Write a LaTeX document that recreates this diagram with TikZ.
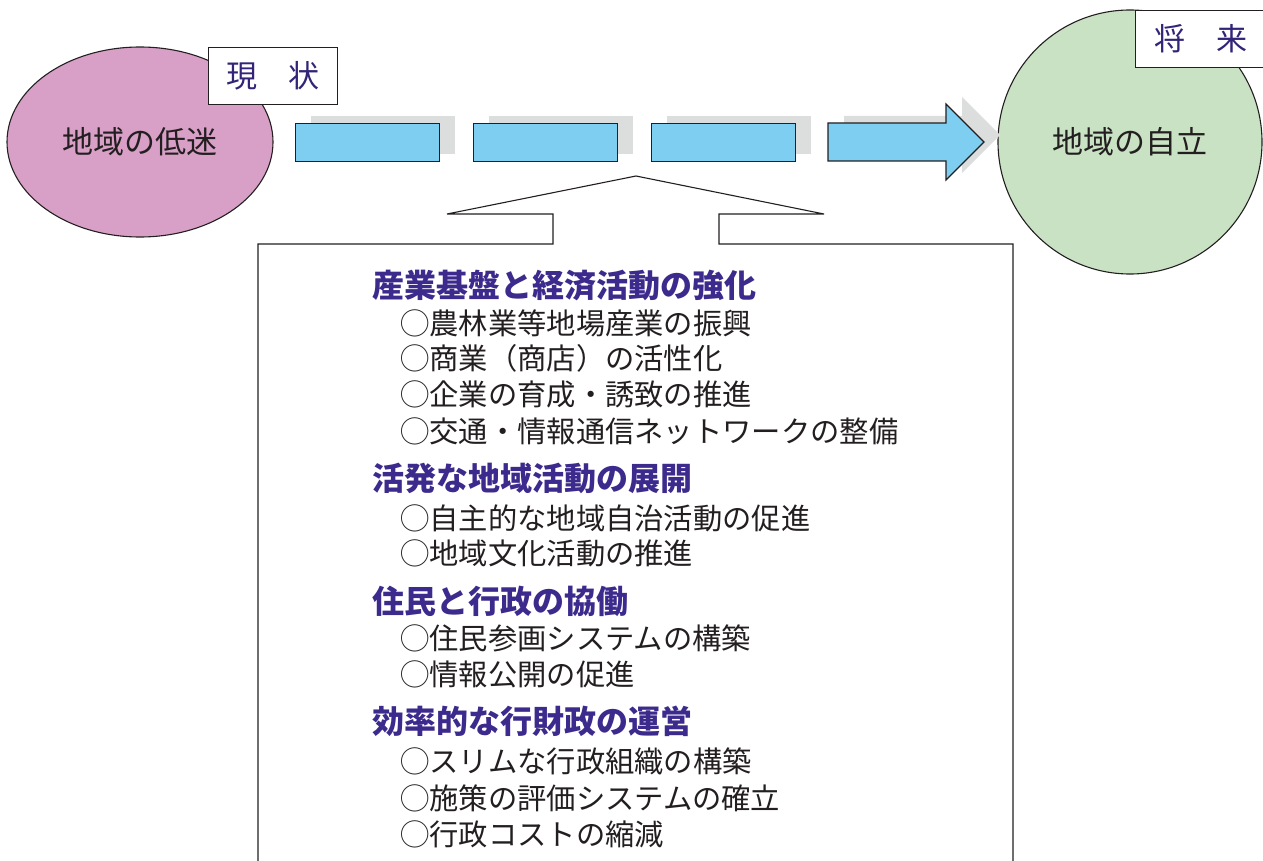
\documentclass[tikz,border=0pt]{standalone}
\usepackage{fontspec}
\newfontfamily\jp{Noto Sans CJK JP}
\usetikzlibrary{shapes.geometric}
\definecolor{pinkfill}{RGB}{216,160,199}
\definecolor{greenfill}{RGB}{201,226,196}
\definecolor{bluefill}{RGB}{126,206,242}
\definecolor{shadowgray}{RGB}{220,221,221}
\definecolor{inkline}{RGB}{35,31,32}
\definecolor{headpurple}{RGB}{60,42,140}
\begin{document}
\begin{tikzpicture}[x=1pt,y=-1pt,
  outline/.style={draw=inkline,line width=1.1pt},
  bluebox/.style={outline,fill=bluefill,minimum width=144pt,minimum height=38pt,inner sep=0pt,anchor=north west},
  shadowbox/.style={fill=shadowgray,minimum width=144pt,minimum height=38pt,inner sep=0pt,anchor=north west},
  labelbox/.style={outline,fill=white,inner sep=0pt,anchor=north west},
  labeltext/.style={font=\jp\fontsize{31}{33}\selectfont,text=headpurple!85!black},
  bigtext/.style={font=\jp\fontsize{31}{33}\selectfont,text=inkline},
  heading/.style={anchor=west,inner sep=0pt,font=\jp\bfseries\fontsize{32}{34}\selectfont,text=headpurple},
  item/.style={anchor=west,inner sep=0pt,font=\jp\fontsize{29.3}{31}\selectfont,text=inkline}]
\useasboundingbox (0,0) rectangle (1263,861);
% left ellipse and label
\node[ellipse,outline,fill=pinkfill,minimum width=266pt,minimum height=190pt,inner sep=0pt,bigtext] (now) at (140,142) {地域の低迷};
\node[labelbox,minimum width=129pt,minimum height=57pt,labeltext] (nowlabel) at (208,47) {現　状};
% right circle and label
\node[circle,outline,fill=greenfill,minimum size=264pt,inner sep=0pt,bigtext] (future) at (1130,142) {地域の自立};
\node[labelbox,minimum width=130pt,minimum height=57pt,labeltext] (futurelabel) at (1135,10) {将　来};
% shadows
\node[shadowbox] (s1) at (311,116) {};
\node[shadowbox] (s2) at (489,116) {};
\node[shadowbox] (s3) at (667,116) {};
\fill[shadowgray] (844,116) -- (962,116) -- (962,97) -- (1000,135) -- (962,173) -- (962,154) -- (844,154) -- cycle;
% blue steps
\node[bluebox] (b1) at (295,123) {};
\node[bluebox] (b2) at (473,123) {};
\node[bluebox] (b3) at (651,123) {};
\draw[outline,fill=bluefill] (828,123) coordinate (b4) -- (946,123) -- (946,104) -- (984,142) coordinate (tip) -- (946,180) -- (946,161) -- (828,161) -- cycle;
% callout box
\draw[outline,fill=white] (258,861) -- (258,244) -- (553,244) -- (553,214) -- (447,214) -- (636,176) coordinate (apex) -- (824,214) -- (719,214) -- (719,244) -- (1013,244) -- (1013,861);
% texts
\node[heading] (h1) at (372,285) {産業基盤と経済活動の強化};
\node[item] (i11) at (400,323) {◯農林業等地場産業の振興};
\node[item] (i12) at (400,358) {◯商業（商店）の活性化};
\node[item] (i13) at (400,394) {◯企業の育成・誘致の推進};
\node[item] (i14) at (400,431) {◯交通・情報通信ネットワークの整備};
\node[heading] (h2) at (372,478) {活発な地域活動の展開};
\node[item] (i21) at (400,518) {◯自主的な地域自治活動の促進};
\node[item] (i22) at (400,553) {◯地域文化活動の推進};
\node[heading] (h3) at (372,601) {住民と行政の協働};
\node[item] (i31) at (400,638) {◯住民参画システムの構築};
\node[item] (i32) at (400,674) {◯情報公開の促進};
\node[heading] (h4) at (372,721) {効率的な行財政の運営};
\node[item] (i41) at (400,761) {◯スリムな行政組織の構築};
\node[item] (i42) at (400,798) {◯施策の評価システムの確立};
\node[item] (i43) at (400,834) {◯行政コストの縮減};
\end{tikzpicture}
\end{document}
